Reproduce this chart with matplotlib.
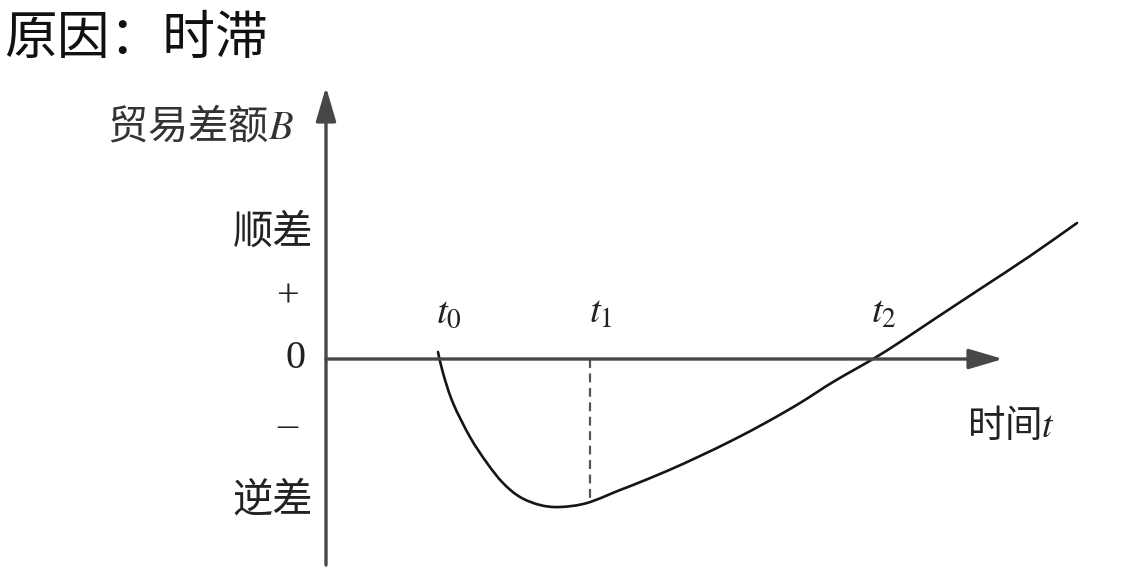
import matplotlib
matplotlib.use("Agg")
import matplotlib.pyplot as plt
import numpy as np
from matplotlib.path import Path
from matplotlib.patches import PathPatch

plt.rcParams['font.family'] = ['Noto Sans CJK SC', 'DejaVu Sans']
plt.rcParams['mathtext.fontset'] = 'stix'

# J-curve (time t, trade balance B)
curve_t = [1.12, 1.17, 1.27, 1.44, 1.61, 1.77, 1.94, 2.14, 2.34, 2.61, 2.94,
           3.07, 3.41, 3.74, 4.07, 4.41, 4.74, 5.07, 5.47, 5.74, 6.07, 6.54,
           7.04, 7.51]
curve_B = [0.07, -0.14, -0.44, -0.78, -1.04, -1.24, -1.38, -1.46, -1.48, -1.44,
           -1.31, -1.26, -1.12, -0.97, -0.81, -0.63, -0.44, -0.23, 0.0, 0.17,
           0.39, 0.70, 1.03, 1.36]
t_marks = [1.12, 2.64, 5.47]
t_labels = ['t_0', 't_1', 't_2']
t1_B = -1.43
side_labels = ['顺差', '逆差']
side_y = [1.27, -1.41]
sign_labels = ['+', '0', '–']
sign_y = [0.62, 0.0, -0.68]
sign_x = [-0.38, -0.30, -0.39]


def smooth_path(x, y):
    # Catmull-Rom through the read points, drawn as cubic beziers
    p = np.column_stack([x, y])
    p = np.vstack([p[0], p, p[-1]])
    verts = [p[1]]
    codes = [Path.MOVETO]
    for i in range(1, len(p) - 2):
        c1 = p[i] + (p[i + 1] - p[i - 1]) / 6
        c2 = p[i + 1] - (p[i + 2] - p[i]) / 6
        verts += [c1, c2, p[i + 1]]
        codes += [Path.CURVE4] * 3
    return Path(verts, codes)


fig = plt.figure(figsize=(11.48, 5.88), dpi=100)
ax = fig.add_axes([0, 0, 1, 1])
ax.set_xlim(-3.26, 8.22)
ax.set_ylim(-2.29, 3.59)
ax.axis('off')

axis_col = '#474747'
arrow = dict(arrowstyle='-|>,head_length=0.95,head_width=0.28',
             color=axis_col, lw=2.4, mutation_scale=22, shrinkA=0, shrinkB=0)
ax.annotate('', xy=(6.77, 0), xytext=(0, 0), arrowprops=arrow)
ax.annotate('', xy=(0, 2.72), xytext=(0, -2.06), arrowprops=arrow)

ax.add_patch(PathPatch(smooth_path(curve_t, curve_B), fill=False,
                       edgecolor='#151515', lw=1.9, capstyle='round'))
ax.plot([t_marks[1], t_marks[1]], [0, t1_B], color='#555555', lw=1.6,
        ls=(0, (4, 2.5)))

for x, lab in zip(t_marks, t_labels):
    ax.text(x + 0.11, 0.47, f'${lab}$', fontsize=28, ha='center', va='center',
            color='#222222')

for y, lab in zip(side_y, side_labels):
    ax.text(-0.13, y, lab, fontsize=29, ha='right', va='center', color='#222222')

for x, y, lab in zip(sign_x, sign_y, sign_labels):
    ax.text(x, y, lab, fontsize=29, ha='center', va='center', color='#222222',
            family='Liberation Serif')

ax.text(-2.19, 2.32, '贸易差额$B$', fontsize=29, ha='left', va='center',
        color='#333333')
ax.text(6.41, -0.68, '时间$t$', fontsize=27, ha='left', va='center',
        color='#222222')

fig.text(0.004, 0.935, '原因：时滞', fontsize=38, ha='left', va='center',
         color='#111111')

fig.savefig('out.png', dpi=100, facecolor='white')
